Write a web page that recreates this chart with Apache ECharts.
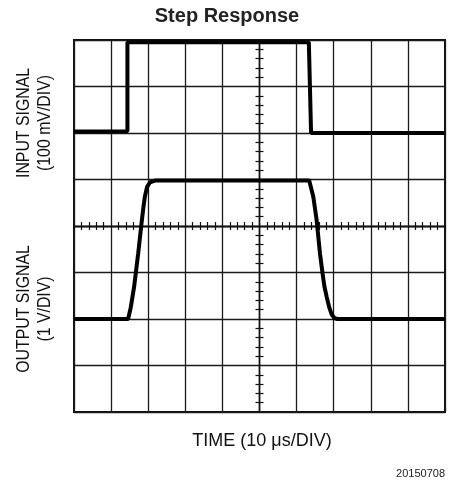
<!DOCTYPE html>
<html>
<head>
<meta charset="utf-8">
<script src="https://cdn.jsdelivr.net/npm/echarts@6/dist/echarts.min.js"></script>
<style>
  html, body { margin: 0; padding: 0; background: #fff; }
  #chart { width: 454px; height: 486px; }
</style>
</head>
<body>
<div id="chart"></div>
<script>
// scope screen: x in divisions (10 us/div), y in divisions (0 = bottom)
const inputSignal = [
  [0, 6.03], [1.44, 6.04], [1.44, 7.95], [6.33, 7.95], [6.39, 6.0], [10, 6.0]
];
const outputSignal = [
  [0, 2.0], [1.46, 2.0], [1.53, 2.25], [1.62, 2.69], [1.73, 3.41], [1.82, 4.06],
  [1.87, 4.4], [1.91, 4.63], [1.97, 4.84], [2.05, 4.94], [2.2, 4.98],
  [6.34, 4.98], [6.45, 4.63], [6.54, 4.13], [6.63, 3.41], [6.7, 2.98],
  [6.75, 2.7], [6.81, 2.48], [6.88, 2.25], [6.95, 2.09], [7.02, 2.02],
  [7.1, 2.0], [10, 2.0]
];
const xDivs = 10;
const yDivs = 8;

const font = 'Liberation Sans, Arial, Helvetica, sans-serif';
const chart = echarts.init(document.getElementById('chart'));

// extra axes only draw the centre graticule with its small ticks
function centreX(inside) {
  return {
    type: 'value', min: 0, max: xDivs, interval: 1, position: 'bottom', offset: -186,
    axisLine: { show: true, lineStyle: { color: '#111', width: 1.3 } },
    axisTick: { show: false, inside: inside },
    minorTick: { show: true, splitNumber: 5, length: 4, lineStyle: { color: '#111', width: 1.2 } },
    axisLabel: { show: false }, splitLine: { show: false }
  };
}
function centreY(inside) {
  return {
    type: 'value', min: 0, max: yDivs, interval: 1, position: 'left', offset: -185.5,
    axisLine: { show: true, lineStyle: { color: '#111', width: 1.3 } },
    axisTick: { show: false, inside: inside },
    minorTick: { show: true, splitNumber: 5, length: 4, lineStyle: { color: '#111', width: 1.2 } },
    axisLabel: { show: false }, splitLine: { show: false }
  };
}

const gridAxisX = {
  type: 'value', min: 0, max: xDivs, interval: 1,
  axisLine: { show: false }, axisTick: { show: false }, axisLabel: { show: false },
  splitLine: { show: true, lineStyle: { color: '#1a1a1a', width: 1.3 } }
};
const gridAxisY = {
  type: 'value', min: 0, max: yDivs, interval: 1,
  axisLine: { show: false }, axisTick: { show: false }, axisLabel: { show: false },
  splitLine: { show: true, lineStyle: { color: '#1a1a1a', width: 1.3 } }
};

function sideLabel(text, x, y) {
  return {
    type: 'text', x: x, y: y, rotation: Math.PI / 2, scaleX: 0.88,
    style: { text: text, font: '18px ' + font, fill: '#111', align: 'center', verticalAlign: 'middle' }
  };
}

const option = {
  animation: false,
  backgroundColor: '#fff',
  title: {
    text: 'Step Response', left: 'center', top: 1,
    textStyle: { fontFamily: font, fontSize: 20, fontWeight: 'bold', color: '#222' }
  },
  grid: {
    left: 74, top: 40, width: 371, height: 372,
    show: true, borderColor: '#111', borderWidth: 2, backgroundColor: 'transparent'
  },
  xAxis: [gridAxisX, centreX(false), centreX(true)],
  yAxis: [gridAxisY, centreY(false), centreY(true)],
  series: [
    {
      name: 'Input', type: 'line', data: inputSignal, showSymbol: false,
      xAxisIndex: 0, yAxisIndex: 0,
      lineStyle: { color: '#000', width: 4 }
    },
    {
      name: 'Output', type: 'line', data: outputSignal, showSymbol: false,
      xAxisIndex: 0, yAxisIndex: 0,
      lineStyle: { color: '#000', width: 4 }
    }
  ],
  graphic: [
    sideLabel('INPUT SIGNAL', 24, 123),
    sideLabel('(100 mV/DIV)', 45, 123),
    sideLabel('OUTPUT SIGNAL', 24, 309),
    sideLabel('(1 V/DIV)', 45, 309),
    { type: 'text', x: 262, y: 441,
      style: { text: 'TIME (10 \u03bcs/DIV)', font: '18px ' + font, fill: '#111', align: 'center', verticalAlign: 'middle' } },
    { type: 'text', x: 445, y: 474,
      style: { text: '20150708', font: '11px ' + font, fill: '#222', align: 'right', verticalAlign: 'middle' } }
  ]
};

chart.setOption(option);
</script>
</body>
</html>
